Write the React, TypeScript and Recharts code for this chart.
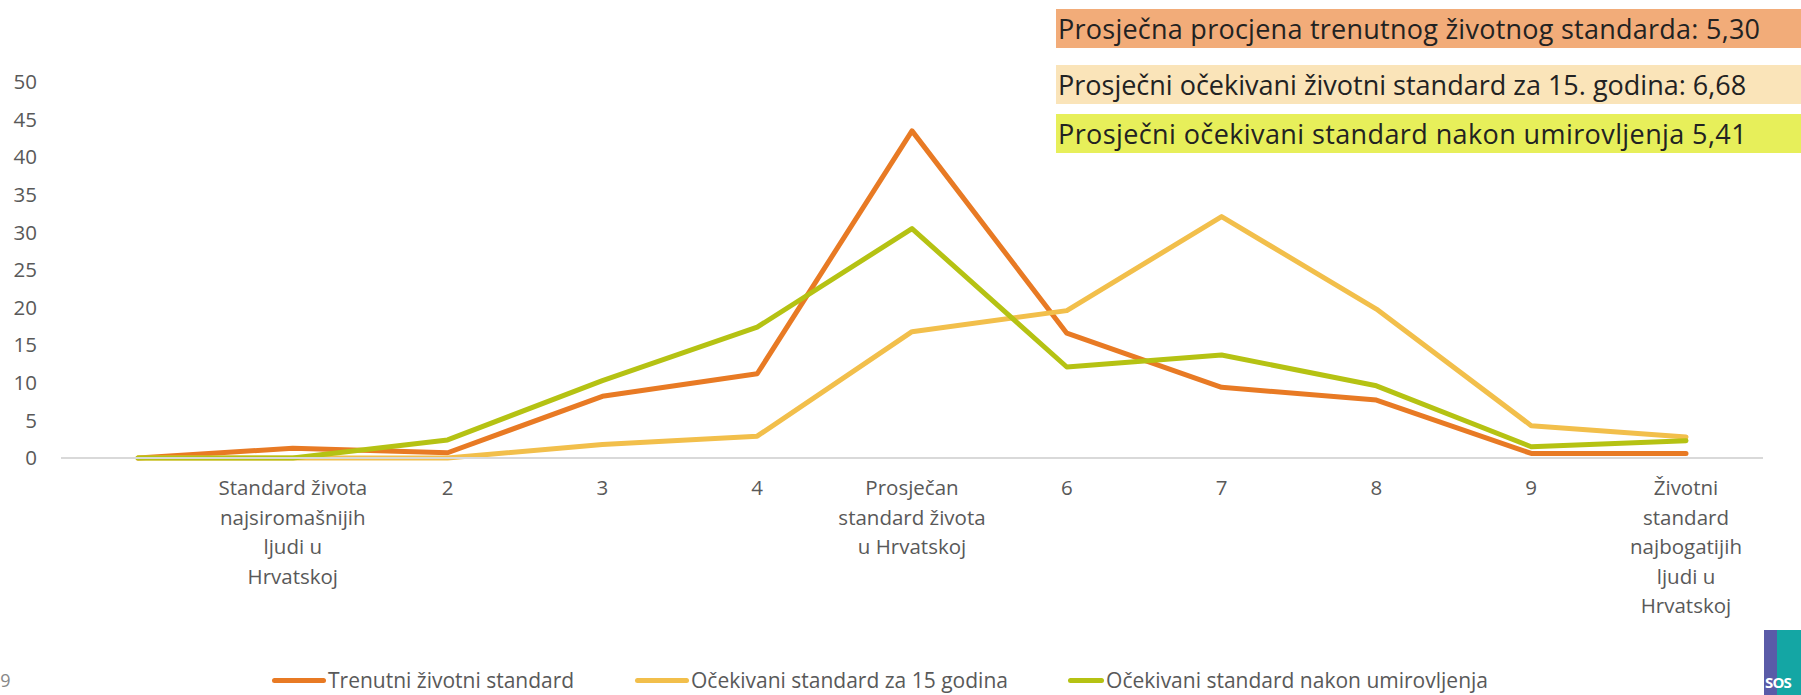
import React from 'react';
import { LineChart, Line, XAxis, YAxis, Legend } from 'recharts';

// x categories (first one is an unlabelled zero point)
const categories = [
  '',
  'Standard života\nnajsiromašnijih\nljudi u\nHrvatskoj',
  '2',
  '3',
  '4',
  'Prosječan\nstandard života\nu Hrvatskoj',
  '6',
  '7',
  '8',
  '9',
  'Životni\nstandard\nnajbogatijih\nljudi u\nHrvatskoj',
];

const trenutni = [0, 1.3, 0.7, 8.2, 11.2, 43.5, 16.6, 9.4, 7.7, 0.6, 0.6];
const ocekivani15 = [0, 0, 0, 1.8, 2.9, 16.8, 19.6, 32.1, 19.8, 4.3, 2.8];
const nakonUmirovljenja = [0, 0, 2.4, 10.3, 17.4, 30.5, 12.1, 13.7, 9.6, 1.5, 2.3];

const yTicks = [0, 5, 10, 15, 20, 25, 30, 35, 40, 45, 50];

const series = [
  { key: 'trenutni', name: 'Trenutni životni standard', color: '#E87A24', values: trenutni },
  { key: 'ocekivani15', name: 'Očekivani standard za 15 godina', color: '#F2BF4B', values: ocekivani15 },
  { key: 'umirovljenje', name: 'Očekivani standard nakon umirovljenja', color: '#B5C213', values: nakonUmirovljenja },
];

const summaries = [
  { text: 'Prosječna procjena trenutnog životnog standarda: 5,30', bg: '#F2AC79' },
  { text: 'Prosječni očekivani životni standard za 15. godina: 6,68', bg: '#FAE4B9' },
  { text: 'Prosječni očekivani standard nakon umirovljenja 5,41', bg: '#E7EF5A' },
];

const data = categories.map((cat, i) => {
  const row: Record<string, string | number> = { cat };
  series.forEach((s) => {
    row[s.key] = s.values[i];
  });
  return row;
});

const FONT = '"Open Sans", sans-serif';

function XTick(props: any) {
  const { x, y, payload } = props;
  const lines = String(payload.value).split('\n');
  return (
    <text x={x} y={y} textAnchor="middle" fill="#595959" fontSize={20.5} fontFamily={FONT}>
      {lines.map((l, i) => (
        <tspan key={i} x={x} dy={i === 0 ? 35 : 29.5}>
          {l}
        </tspan>
      ))}
    </text>
  );
}

// legend item widths follow the original spacing
const legendWidths = [363, 433, 420];

function LegendContent() {
  return (
    <div style={{ display: 'flex', alignItems: 'center', paddingLeft: 272, height: 30 }}>
      {series.map((s, i) => (
        <div key={s.key} style={{ display: 'flex', alignItems: 'center', width: legendWidths[i] }}>
          <div style={{ width: 54, height: 5, borderRadius: 3, background: s.color, marginRight: 2 }} />
          <span
            style={{
              fontSize: 21,
              lineHeight: '28px',
              color: '#595959',
              fontFamily: FONT,
              whiteSpace: 'nowrap',
            }}
          >
            {s.name}
          </span>
        </div>
      ))}
    </div>
  );
}

export default function App() {
  return (
    <div
      style={{
        position: 'absolute',
        left: 0,
        top: 0,
        width: 1801,
        height: 695,
        overflow: 'hidden',
        background: '#fff',
        fontFamily: FONT,
      }}
    >
      <LineChart width={1801} height={695} data={data} margin={{ top: 82, right: 38, left: 0, bottom: 0 }}>
        <XAxis
          dataKey="cat"
          interval={0}
          padding={{ left: 77, right: 77 }}
          axisLine={{ stroke: '#D9D9D9', strokeWidth: 2 }}
          tickLine={false}
          tickSize={0}
          tick={<XTick />}
          height={207}
        />
        <YAxis
          domain={[0, 50]}
          ticks={yTicks}
          interval={0}
          width={61}
          axisLine={false}
          tickLine={false}
          tickSize={0}
          tickMargin={24}
          tick={{ fill: '#595959', fontSize: 20.5, fontFamily: FONT }}
        />
        <Legend verticalAlign="bottom" height={30} content={<LegendContent />} />
        {series.map((s) => (
          <Line
            key={s.key}
            type="linear"
            dataKey={s.key}
            name={s.name}
            stroke={s.color}
            strokeWidth={5}
            strokeLinecap="round"
            strokeLinejoin="round"
            dot={false}
            activeDot={false}
            isAnimationActive={false}
          />
        ))}
      </LineChart>

      {summaries.map((b, i) => (
        <div
          key={i}
          style={{
            position: 'absolute',
            left: 1056,
            top: [9, 65, 114][i],
            width: 745,
            height: 39,
            background: b.bg,
            color: '#222',
            fontSize: 27,
            lineHeight: '39px',
            letterSpacing: [0.25, 0, 0.4][i],
            paddingLeft: 2,
            whiteSpace: 'nowrap',
          }}
        >
          {b.text}
        </div>
      ))}

      <div style={{ position: 'absolute', left: -10, top: 668, fontSize: 18, color: '#888' }}>19</div>

      <div style={{ position: 'absolute', left: 1764, top: 630, width: 37, height: 65, display: 'flex' }}>
        <div style={{ width: 13, background: '#5A5BA8' }} />
        <div style={{ flex: 1, background: '#14A6A4' }} />
        <div
          style={{
            position: 'absolute',
            bottom: 3,
            left: 1,
            color: '#fff',
            fontWeight: 700,
            fontSize: 15,
            letterSpacing: -0.8,
          }}
        >
          SOS
        </div>
      </div>
    </div>
  );
}
